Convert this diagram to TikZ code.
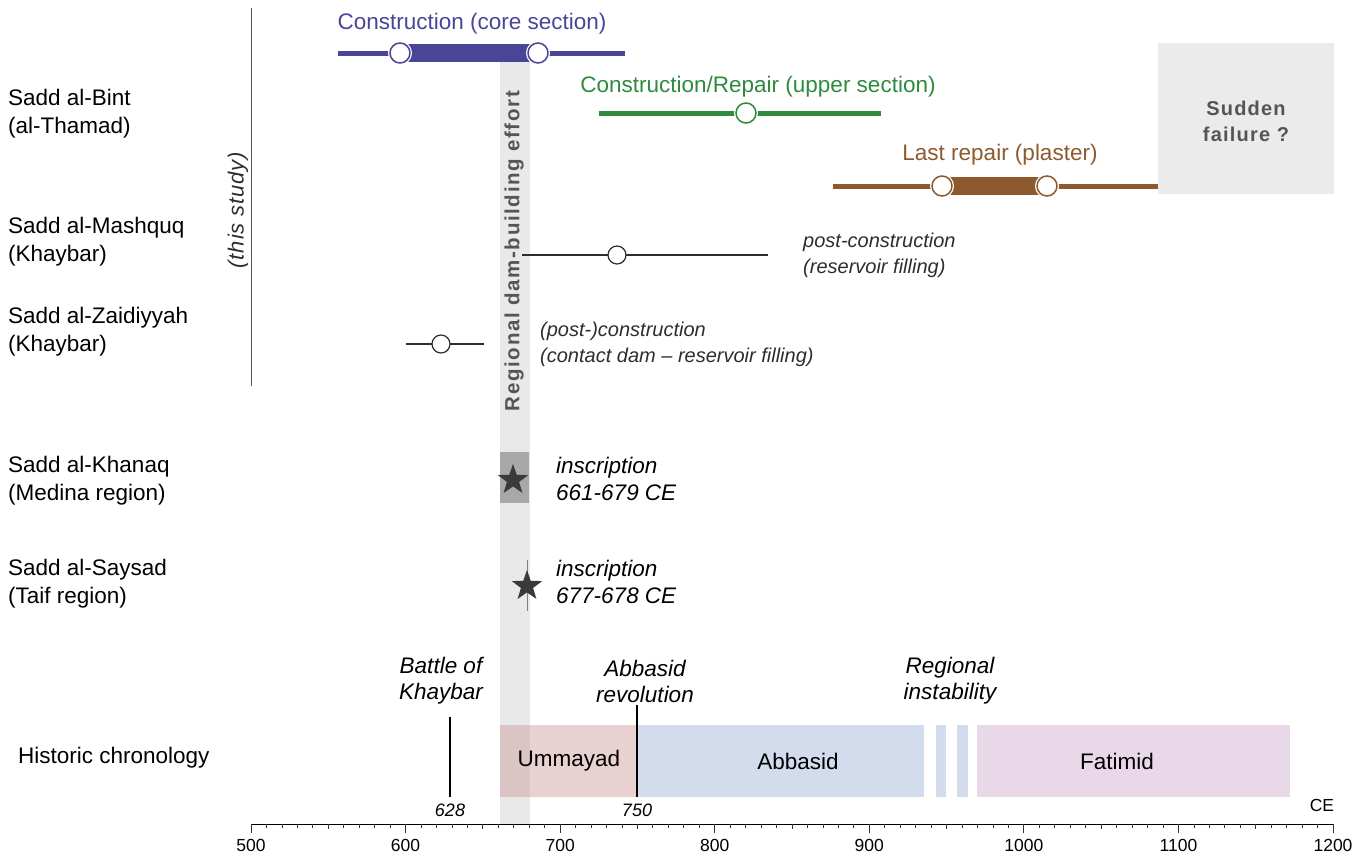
\documentclass[tikz,border=0pt]{standalone}
\usepackage{fontspec}
\setmainfont{Liberation Sans}
\usetikzlibrary{shapes.geometric}
\definecolor{cpurple}{RGB}{74,69,150}
\definecolor{cgreen}{RGB}{46,139,62}
\definecolor{cbrown}{RGB}{140,90,46}
\definecolor{bandgrey}{RGB}{233,233,233}
\definecolor{boxgrey}{RGB}{235,235,235}
\definecolor{khgrey}{RGB}{168,168,168}
\definecolor{starc}{RGB}{58,58,58}
\definecolor{umm}{RGB}{233,209,209}
\definecolor{ummdark}{RGB}{218,197,196}
\definecolor{abb}{RGB}{210,220,236}
\definecolor{fat}{RGB}{232,216,232}
\definecolor{txtgrey}{RGB}{85,85,85}
\definecolor{itgrey}{RGB}{45,45,45}
\newcommand\fsz[2]{\fontsize{#1}{#2}\selectfont}
\begin{document}
\begin{tikzpicture}[x=1pt,y=-1pt,
  lab/.style={font=\fsz{22.5}{28}, align=left, anchor=west, inner sep=0pt},
  ttl/.style={font=\fsz{22.5}{28}, inner sep=0pt},
  itl/.style={font=\fsz{20}{26}\itshape, text=itgrey, align=left, anchor=west, inner sep=0pt},
  itb/.style={font=\fsz{22.5}{27}\itshape, align=left, anchor=west, inner sep=0pt},
  evt/.style={font=\fsz{22.5}{26}\itshape, align=center, inner sep=0pt},
  dot/.style={circle, draw=#1, line width=1.5pt, fill=white, minimum size=20pt, inner sep=0pt,
    preaction={draw=white, line width=4pt}},
  smalldot/.style={circle, draw=itgrey, line width=1.2pt, fill=white, minimum size=18pt, inner sep=0pt},
  starnode/.style={star, star points=5, star point ratio=2.5, fill=starc, minimum size=32pt, inner sep=0pt},
  axislab/.style={font=\fsz{17.5}{20}, inner sep=0pt},
  boldgrey/.style={font=\fsz{20}{26}\bfseries\addfontfeatures{LetterSpace=6}, text=txtgrey, align=center, inner sep=0pt}
]
\useasboundingbox (0,0) rectangle (1370,857);

% regional band
\fill[bandgrey] (500,60) rectangle (530,824);
\node[boldgrey, font=\fsz{20.5}{26}\bfseries\addfontfeatures{LetterSpace=8}, rotate=90] (band) at (514,251) {Regional dam-building effort};

% this study bracket
\draw[txtgrey, line width=1pt] (251,8) -- (251,386);
\node[font=\fsz{22}{26}\itshape\addfontfeatures{LetterSpace=4}, text=itgrey, rotate=90, inner sep=0pt] (study) at (238,210) {(this study)};

% left labels
\node[lab] (bint) at (8,114) {Sadd al-Bint\\(al-Thamad)};
\node[lab] (mash) at (8,242) {Sadd al-Mashquq\\(Khaybar)};
\node[lab] (zaid) at (8,332) {Sadd al-Zaidiyyah\\(Khaybar)};
\node[lab] (khan) at (8,481) {Sadd al-Khanaq\\(Medina region)};
\node[lab] (says) at (8,584) {Sadd al-Saysad\\(Taif region)};
\node[lab] (hist) at (18,758) {Historic chronology};

% core section
\draw[cpurple, line width=5pt] (338,53) -- (625,53);
\fill[cpurple] (400,44) rectangle (538,62);
\node[dot=cpurple] (c1) at (400,53) {};
\node[dot=cpurple] (c2) at (538,53) {};
\node[ttl, text=cpurple] (ct) at (472,24) {Construction (core section)};

% upper section
\draw[cgreen, line width=5pt] (599,113) -- (881,113);
\node[dot=cgreen] (g1) at (746,113) {};
\node[ttl, text=cgreen] (gt) at (758,87) {Construction/Repair (upper section)};

% last repair
\fill[boxgrey] (1158,43) rectangle (1334,194);
\node[boldgrey] (fail) at (1246,121) {Sudden\\failure ?};
\draw[cbrown, line width=5pt] (833,186) -- (1158,186);
\fill[cbrown] (942,177) rectangle (1047,195);
\node[dot=cbrown] (b1) at (942,186) {};
\node[dot=cbrown] (b2) at (1047,186) {};
\node[ttl, text=cbrown] (bt) at (1000,155) {Last repair (plaster)};

% Mashquq
\draw[itgrey, line width=1.2pt] (522,255) -- (768,255);
\node[smalldot] (m1) at (617,255) {};
\node[itl] (mt) at (803,255) {post-construction\\(reservoir filling)};

% Zaidiyyah
\draw[itgrey, line width=1.2pt] (406,344) -- (484,344);
\node[smalldot] (z1) at (441,344) {};
\node[itl] (zt) at (540,344) {(post-)construction\\(contact dam -- reservoir filling)};

% Khanaq
\fill[khgrey] (500,452) rectangle (529,503);
\node[starnode] (s1) at (513,480) {};
\node[itb] (kt) at (556,479) {inscription\\661-679 CE};

% Saysad
\draw[gray, line width=1pt] (527,560) -- (527,611);
\node[starnode] (s2) at (527,586) {};
\node[itb] (st) at (556,582) {inscription\\677-678 CE};

% chronology
\fill[umm] (500,725) rectangle (637,797);
\fill[ummdark] (500,725) rectangle (530,797);
\fill[abb] (637,725) rectangle (924,797);
\fill[abb] (936,725) rectangle (946,797);
\fill[abb] (957,725) rectangle (968,797);
\fill[fat] (977,725) rectangle (1290,797);
\node[ttl] (ummt) at (569,761) {Ummayad};
\node[ttl] (abbt) at (798,761) {Abbasid};
\node[ttl] (fatt) at (1117,761) {Fatimid};
\draw[black, line width=1.2pt] (450,717) -- (450,797);
\draw[black, line width=1.2pt] (637,705) -- (637,797);
\node[evt] (e1) at (441,681) {Battle of\\Khaybar};
\node[evt] (e2) at (645,681) {Abbasid\\revolution};
\node[evt] (e3) at (950,681) {Regional\\instability};
\node[axislab, font=\fsz{18}{20}\itshape] (y628) at (450,810) {628};
\node[axislab, font=\fsz{18}{20}\itshape] (y750) at (637,810) {750};

% axis
\draw[black, line width=1pt] (251,824) -- (1333,824);
\foreach \i in {0,...,70}{
  \pgfmathsetmacro\xx{251+\i*15.4571}
  \pgfmathsetmacro\tl{ifthenelse(mod(\i,10)==0,9,ifthenelse(mod(\i,5)==0,5,4))}
  \draw[black!80, line width=0.8pt] (\xx,824) -- ++(0,\tl);
}
\foreach \yr [count=\k from 0] in {500,600,...,1200}{
  \node[axislab] (ax\k) at ({251+\k*154.571},845) {\yr};
}
\node[axislab] (ce) at (1322,805) {CE};
\end{tikzpicture}
\end{document}
